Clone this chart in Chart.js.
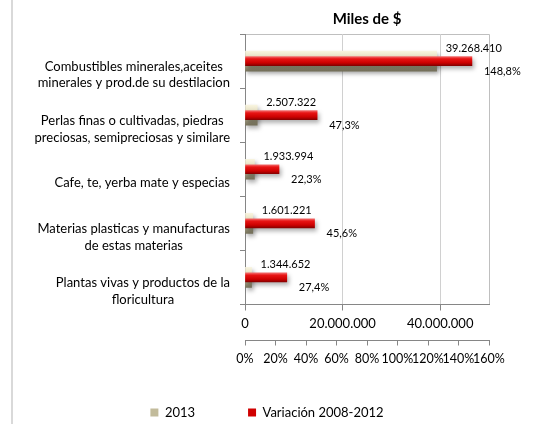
<!DOCTYPE html>
<html>
<head>
<meta charset="utf-8">
<script src="https://cdn.jsdelivr.net/npm/chart.js@4.4.1/dist/chart.umd.min.js"></script>
<style>
  html, body { margin: 0; padding: 0; background: #fff; }
  #wrap { position: relative; width: 534px; height: 424px; }
</style>
</head>
<body>
<div id="wrap"><canvas id="chart"></canvas></div>
<script>
const CATEGORIES = [
    ['Combustibles minerales,aceites', 'minerales y prod.de su destilacion'],
    ['Perlas finas o cultivadas, piedras', 'preciosas, semipreciosas y similare'],
    ['Cafe, te, yerba mate y especias'],
    ['Materias plasticas y manufacturas', 'de estas materias'],
    ['Plantas vivas y productos de la', 'floricultura'],
];
const VALUES_2013 = [39268410, 2507322, 1933994, 1601221, 1344652];
const VARIACION = [148.8, 47.3, 22.3, 45.6, 27.4];
const SERIES_NAMES = ['2013', 'Variación 2008-2012'];
const MILES_TICKS = [0, 20000000, 40000000];
const PCT_TICKS = [0, 20, 40, 60, 80, 100, 120, 140, 160];

const FONT = 'Lato';
const AXIS_GREY = '#868686';
const GRID_GREY = '#d0d0d0';
const TAN_STOPS = [[0, '#f8f4df'], [0.35, '#e4ddbd'], [0.7, '#aea88b'], [1, '#7a755d']];
const RED_STOPS = [[0, '#f26a6a'], [0.25, '#e81414'], [0.7, '#cc0000'], [1, '#880000']];
const LEGEND_COLORS = ['#c2bb9b', '#d00000'];

function fmtMiles(v) {
    return String(v).replace(/\B(?=(\d{3})+(?!\d))/g, '.');
}
function fmtPct(v) {
    return v.toFixed(1).replace('.', ',') + '%';
}

// vertical gradient per bar, like the excel 3d look
function gradientFill(stops, thickness) {
    return (c) => {
        const ys = c.chart.scales.y;
        if (!ys || c.dataIndex === undefined) return stops[1][1];
        const yc = ys.getPixelForValue(c.dataIndex);
        if (!isFinite(yc)) return stops[1][1];
        const g = c.chart.ctx.createLinearGradient(0, yc - thickness / 2, 0, yc + thickness / 2);
        stops.forEach(([p, col]) => g.addColorStop(p, col));
        return g;
    };
}

const framePlugin = {
    id: 'frame',
    beforeDraw(chart) {
        const ctx = chart.ctx;
        const a = chart.chartArea;
        ctx.save();
        ctx.fillStyle = '#d9d9d9';
        ctx.fillRect(11, 0, 2, chart.height); // outer chart border
        ctx.strokeStyle = '#bfbfbf';
        ctx.lineWidth = 1;
        ctx.beginPath();
        ctx.moveTo(a.left, a.top + 0.5);
        ctx.lineTo(a.right + 0.5, a.top + 0.5);
        ctx.lineTo(a.right + 0.5, a.bottom);
        ctx.stroke();
        ctx.restore();
    },
    beforeDatasetsDraw(chart) {
        const ctx = chart.ctx;
        ctx.save();
        ctx.shadowColor = 'rgba(0,0,0,0.3)';
        ctx.shadowBlur = 4;
        ctx.shadowOffsetX = 2;
        ctx.shadowOffsetY = 3;
    },
    afterDatasetsDraw(chart) {
        const ctx = chart.ctx;
        ctx.restore();
        ctx.save();
        ctx.font = '11px ' + FONT;
        ctx.fillStyle = '#000';
        ctx.textAlign = 'left';
        ctx.textBaseline = 'middle';
        chart.getDatasetMeta(0).data.forEach((bar, i) => {
            ctx.fillText(fmtMiles(VALUES_2013[i]), bar.x + 9, bar.y - 13);
        });
        chart.getDatasetMeta(1).data.forEach((bar, i) => {
            ctx.fillText(fmtPct(VARIACION[i]), bar.x + 12, bar.y + 10);
        });
        ctx.restore();
    },
    afterDraw(chart) {
        // category labels: block right aligned, lines centred inside block
        const ctx = chart.ctx;
        const ys = chart.scales.y;
        ctx.save();
        ctx.font = '13px ' + FONT;
        ctx.fillStyle = '#000';
        ctx.textAlign = 'center';
        ctx.textBaseline = 'middle';
        CATEGORIES.forEach((lines, i) => {
            const w = Math.max(...lines.map(l => ctx.measureText(l).width));
            const cx = ys.right - 15 - w / 2;
            const cy = ys.getPixelForValue(i) + 14;
            lines.forEach((l, j) => {
                ctx.fillText(l, cx, cy + (j - (lines.length - 1) / 2) * 16.5);
            });
        });
        ctx.restore();
    }
};

const ctx = document.getElementById('chart');
new Chart(ctx, {
    type: 'bar',
    data: {
        labels: CATEGORIES,
        datasets: [{
            label: SERIES_NAMES[0],
            data: VALUES_2013,
            xAxisID: 'x',
            grouped: false,
            barThickness: 20,
            order: 2,
            backgroundColor: gradientFill(TAN_STOPS, 20),
        }, {
            label: SERIES_NAMES[1],
            data: VARIACION,
            xAxisID: 'x2',
            grouped: false,
            barThickness: 9,
            order: 1,
            backgroundColor: gradientFill(RED_STOPS, 9),
        }]
    },
    options: {
        indexAxis: 'y',
        responsive: true,
        maintainAspectRatio: false,
        animation: false,
        layout: { padding: { left: 0, right: 0, top: 0, bottom: -5 } },
        plugins: {
            tooltip: { enabled: false },
            title: {
                display: true,
                text: 'Miles de $',
                fullSize: false,
                color: '#000',
                font: { family: FONT, size: 15, weight: 'bold' },
                padding: { top: 10, bottom: 6 }
            },
            legend: {
                position: 'bottom',
                labels: {
                    font: { family: FONT, size: 13 },
                    color: '#000',
                    boxWidth: 8,
                    boxHeight: 8,
                    padding: 14,
                    generateLabels() {
                        return SERIES_NAMES.map((name, i) => ({
                            text: i === 0 ? name + '\u2003\u2003\u2003\u2003' : name,
                            fillStyle: LEGEND_COLORS[i],
                            strokeStyle: LEGEND_COLORS[i],
                            lineWidth: 0,
                            hidden: false,
                            datasetIndex: i
                        }));
                    }
                }
            }
        },
        scales: {
            y: {
                position: 'left',
                grid: { offset: true, drawOnChartArea: false, drawTicks: true, tickLength: 5, color: AXIS_GREY },
                border: { color: AXIS_GREY },
                ticks: { display: false },
                afterFit(s) { s.width = 245; }
            },
            yr: {
                type: 'linear',
                position: 'right',
                grid: { display: false },
                border: { display: false },
                ticks: { display: false },
                afterFit(s) { s.width = 45; }
            },
            x: {
                position: 'bottom',
                min: 0,
                max: 50000000,
                afterBuildTicks(s) { s.ticks = MILES_TICKS.map(v => ({ value: v })); },
                grid: { color: GRID_GREY, tickColor: AXIS_GREY, tickLength: 6 },
                border: { color: AXIS_GREY },
                ticks: {
                    color: '#000', font: { family: FONT, size: 13 }, padding: 6,
                    autoSkip: false, maxRotation: 0,
                    callback: (v) => fmtMiles(v)
                },
                afterFit(s) { s.height = 36; }
            },
            x2: {
                position: 'bottom',
                min: 0,
                max: 160,
                afterBuildTicks(s) { s.ticks = PCT_TICKS.map(v => ({ value: v })); },
                grid: { drawOnChartArea: false, color: AXIS_GREY, tickLength: 5 },
                border: { color: AXIS_GREY },
                ticks: {
                    color: '#000', font: { family: FONT, size: 12.5 }, padding: 6,
                    autoSkip: false, maxRotation: 0,
                    callback: (v) => v + '%'
                },
                afterFit(s) { s.height = 51.5; }
            }
        }
    },
    plugins: [framePlugin]
});
</script>
</body>
</html>
